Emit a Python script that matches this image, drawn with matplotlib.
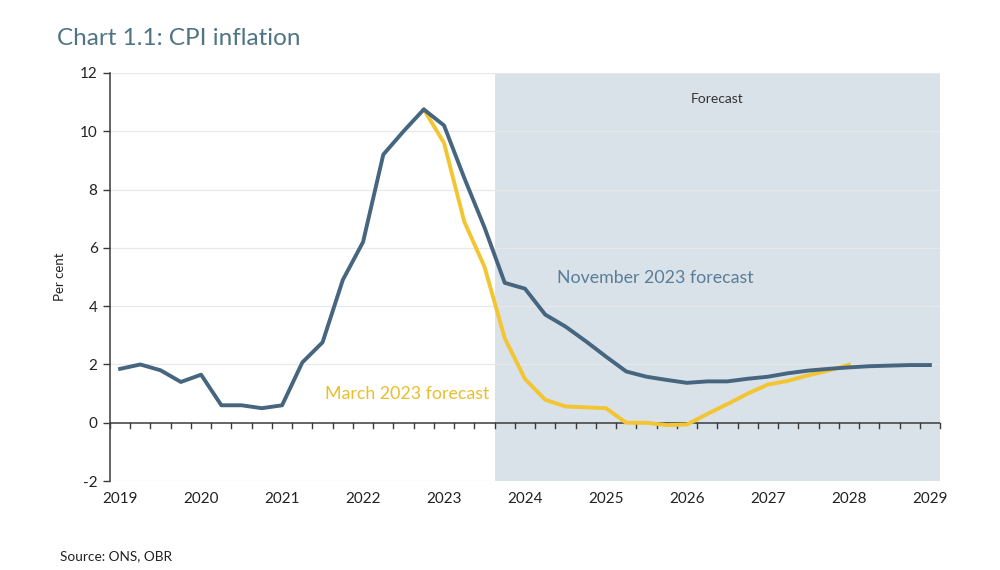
import matplotlib
matplotlib.use("Agg")
import matplotlib.pyplot as plt

plt.rcParams['font.family'] = ['Lato', 'DejaVu Sans']

# quarterly, 2019Q1 .. 2029Q1
years = [2019, 2020, 2021, 2022, 2023, 2024, 2025, 2026, 2027, 2028, 2029]

nov_2023 = [1.85, 2.0, 1.8, 1.4, 1.65, 0.6, 0.6, 0.5, 0.6, 2.07, 2.76, 4.9,
            6.2, 9.2, 10.0, 10.75, 10.2, 8.4, 6.7, 4.8, 4.6, 3.71, 3.3, 2.8,
            2.27, 1.76, 1.58, 1.47, 1.37, 1.42, 1.42, 1.51, 1.58, 1.7, 1.79, 1.85,
            1.9, 1.94, 1.96, 1.98, 1.98]

# March 2023 forecast starts at the 2022Q4 peak
mar_start = 15
mar_2023 = [10.75, 9.6, 6.9, 5.35, 2.9, 1.5, 0.79, 0.56, 0.53, 0.5, 0.0, 0.0,
            -0.08, -0.06, 0.3, 0.64, 1.0, 1.31, 1.44, 1.63, 1.79, 1.99]

forecast_from = 19  # 2023Q4

blue = '#46657F'
yellow = '#F2C531'
shade = '#D9E1E9'
grid_col = '#E6E8EA'

fig = plt.figure(figsize=(10, 5.7), dpi=100)
ax = fig.add_axes([0.110, 0.156, 0.830, 0.716])

n = len(nov_2023)
ax.set_xlim(-0.5, n - 0.5)
ax.set_ylim(-2, 12)

ax.axvspan(forecast_from - 0.5, n - 0.5, color=shade, zorder=0, lw=0)
for yv in range(-2, 13, 2):
    if yv != 0:
        ax.axhline(yv, color=grid_col, lw=0.9, zorder=1)
ax.axhline(0, color='#3A3A3A', lw=1.1, zorder=2)

ax.plot(range(mar_start, mar_start + len(mar_2023)), mar_2023,
        color=yellow, lw=2.8, zorder=3, solid_joinstyle='round')
ax.plot(range(n), nov_2023, color=blue, lw=2.8, zorder=4, solid_joinstyle='round')

# category boundary ticks hanging off the zero line
for k in range(n + 1):
    ax.plot([k - 0.5, k - 0.5], [0, -0.17], color='#3A3A3A', lw=1.0, zorder=2,
            clip_on=False)

for s in ['top', 'right', 'bottom']:
    ax.spines[s].set_visible(False)
ax.spines['left'].set_color('#3A3A3A')
ax.spines['left'].set_linewidth(1.1)

ax.set_yticks(range(-2, 13, 2))
ax.set_yticklabels([str(v) for v in range(-2, 13, 2)], fontsize=11, color='#222222')
ax.tick_params(axis='y', length=5, width=1.0, color='#3A3A3A', pad=4)

ax.set_xticks([4 * i for i in range(len(years))])
ax.set_xticklabels([str(y) for y in years], fontsize=11, color='#222222')
ax.tick_params(axis='x', length=0, pad=8)

ax.set_ylabel('Per cent', fontsize=9.5, color='#222222', labelpad=10)

ax.text((forecast_from - 0.5 + n - 0.5) / 2, 11.1, 'Forecast', ha='center',
        va='center', fontsize=10, color='#333333')
ax.text(21.6, 4.95, 'November 2023 forecast', ha='left', va='center',
        fontsize=12.8, color='#5A7D98')
ax.text(10.1, 1.0, 'March 2023 forecast', ha='left', va='center',
        fontsize=12.8, color='#E8BE2E')

fig.text(0.057, 0.933, 'Chart 1.1: CPI inflation', fontsize=17.5, color='#4F7483',
         ha='left', va='center')
fig.text(0.060, 0.025, 'Source: ONS, OBR', fontsize=9.8, color='#222222',
         ha='left', va='center')

fig.savefig('out.png', dpi=100, facecolor='white')
